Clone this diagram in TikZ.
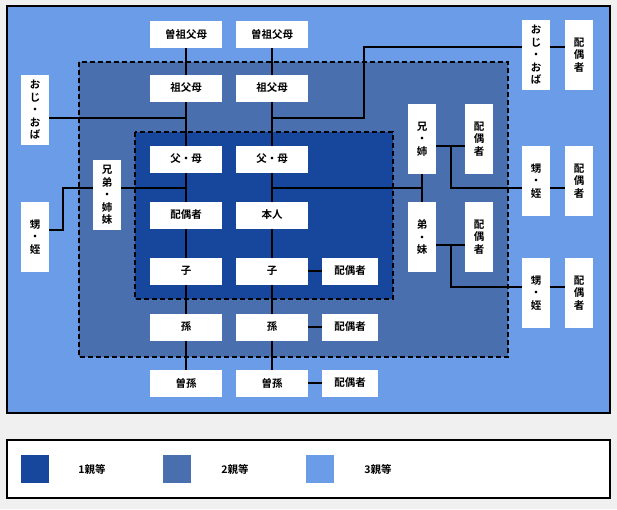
\documentclass[tikz,border=0pt]{standalone}
\usepackage{fontspec}
\newfontfamily\jp{Noto Sans CJK JP}[BoldFont={* Bold}]
\definecolor{c1}{HTML}{16479C}
\definecolor{c2}{HTML}{4A6FAF}
\definecolor{c3}{HTML}{6A9CE8}
\definecolor{bg}{HTML}{F0F0F0}
\begin{document}
\begin{tikzpicture}[x=1pt,y=-1pt,
 hb/.style={fill=white,minimum width=72pt,minimum height=27pt,inner sep=0pt,font=\jp\bfseries\fontsize{10.5}{12}\selectfont},
 sb/.style={hb,minimum width=56pt},
 vb/.style={fill=white,minimum width=28pt,minimum height=70pt,inner sep=0pt,align=center,font=\jp\bfseries\fontsize{10.5}{12.5}\selectfont},
 ln/.style={line width=1.3pt},
 dsh/.style={line width=1.3pt,dash pattern=on 5pt off 3pt}]
\fill[bg] (0,0) rectangle (617,509);
\draw[fill=c3,line width=1.3pt] (7,6) rectangle (610,413);
\fill[c2] (79,62) rectangle (508,357);
\draw[dsh] (79,62) rectangle (508,357);
\fill[c1] (135,132) rectangle (393,299);
\draw[dsh] (135,132) rectangle (393,299);
% lines
\coordinate (a1) at (186,48); \coordinate (a2) at (186,370);
\coordinate (b1) at (272,48); \coordinate (b2) at (272,370);
\draw[ln] (a1)--(a2); \draw[ln] (b1)--(b2);
\draw[ln] (49,118)--(186,118);
\draw[ln] (272,118)--(364,118)--(364,47)--(522,47);
\draw[ln] (550,47)--(565,47);
\draw[ln] (186,188)--(63,188)--(63,230)--(49,230);
\draw[ln] (272,188)--(422,188);
\draw[ln] (422,174)--(422,202);
\draw[ln] (436,146)--(465,146);
\draw[ln] (451,146)--(451,188)--(522,188);
\draw[ln] (550,188)--(565,188);
\draw[ln] (436,245)--(465,245);
\draw[ln] (451,245)--(451,287)--(522,287);
\draw[ln] (550,287)--(565,287);
\draw[ln] (308,271)--(322,271);
\draw[ln] (308,327)--(322,327);
\draw[ln] (308,383)--(322,383);
% nodes
\node[hb] (sa) at (186,34) {曽祖父母};
\node[hb] (sb) at (272,34) {曽祖父母};
\node[hb] (ga) at (186,88) {祖父母};
\node[hb] (gb) at (272,88) {祖父母};
\node[hb] (pa) at (186,159) {父・母};
\node[hb] (pb) at (272,159) {父・母};
\node[hb] (sp) at (186,215) {配偶者};
\node[hb] (me) at (272,215) {本人};
\node[hb] (ka) at (186,271) {子};
\node[hb] (kb) at (272,271) {子};
\node[sb] (ks) at (350,271) {配偶者};
\node[hb] (ma) at (186,327) {孫};
\node[hb] (mb) at (272,327) {孫};
\node[sb] (ms) at (350,327) {配偶者};
\node[hb] (ha) at (186,383) {曽孫};
\node[hb] (hb2) at (272,383) {曽孫};
\node[sb] (hs) at (350,383) {配偶者};
\node[vb] (lo) at (35,110) {お\\じ\\・\\お\\ば};
\node[vb] (lk) at (107,195) {兄\\弟\\・\\姉\\妹};
\node[vb] (lm) at (35,237) {甥\\・\\姪};
\node[vb] (ro) at (536,55) {お\\じ\\・\\お\\ば};
\node[vb] (ros) at (579,55) {配\\偶\\者};
\node[vb] (ra) at (422,139) {兄\\・\\姉};
\node[vb] (ras) at (479,139) {配\\偶\\者};
\node[vb] (rb) at (422,237) {弟\\・\\妹};
\node[vb] (rbs) at (479,237) {配\\偶\\者};
\node[vb] (rm1) at (536,181) {甥\\・\\姪};
\node[vb] (rm1s) at (579,181) {配\\偶\\者};
\node[vb] (rm2) at (536,293) {甥\\・\\姪};
\node[vb] (rm2s) at (579,293) {配\\偶\\者};
% legend
\draw[fill=white,line width=1.3pt] (7,440) rectangle (610,498);
\fill[c1] (21,455) rectangle (49,483);
\fill[c2] (163,455) rectangle (191,483);
\fill[c3] (306,455) rectangle (334,483);
\tikzset{lg/.style={font=\jp\bfseries\fontsize{10.5}{12}\selectfont}}
\node[lg] (l1) at (92,469) {1親等};
\node[lg] (l2) at (235,469) {2親等};
\node[lg] (l3) at (378,469) {3親等};
\end{tikzpicture}
\end{document}
